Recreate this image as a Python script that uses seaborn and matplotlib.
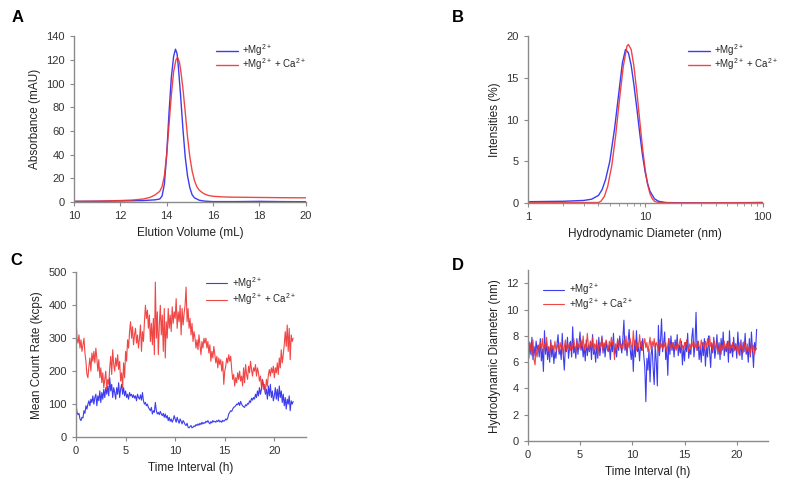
import numpy as np
import pandas as pd
import seaborn as sns
import matplotlib.pyplot as plt
from matplotlib.ticker import LogLocator, NullFormatter

# ---- panel A: size-exclusion chromatography ----
sec_mg_x = [10.0, 11.0, 12.0, 12.5, 13.0, 13.5, 13.7, 13.8, 13.9, 14.0, 14.1, 14.2, 14.3,
            14.38, 14.45, 14.5, 14.6, 14.7, 14.8, 14.9, 15.0, 15.1, 15.2, 15.4, 15.6,
            15.8, 16.0, 17.0, 18.0, 19.0, 20.0]
sec_mg_y = [0.5, 0.6, 0.8, 1.0, 1.2, 1.8, 2.5, 5, 15, 40, 75, 105, 123,
            129, 125, 115, 90, 62, 38, 22, 12, 6, 3.5, 1.5, 0.8,
            0.5, 0.3, 0.3, 0.5, 0.3, 0.2]
sec_ca_x = [10.0, 11.0, 12.0, 12.5, 13.0, 13.3, 13.5, 13.7, 13.8, 13.9, 14.0, 14.1, 14.2,
            14.3, 14.4, 14.47, 14.55, 14.6, 14.7, 14.8, 14.9, 15.0, 15.1, 15.2, 15.3,
            15.4, 15.6, 15.8, 16.0, 16.5, 17.0, 18.0, 19.0, 20.0]
sec_ca_y = [0.5, 0.7, 1.2, 1.6, 2.5, 4, 6, 9, 13, 22, 40, 65, 90,
            110, 120, 122, 118, 112, 96, 76, 55, 38, 26, 18, 13,
            10, 7, 5.5, 4.8, 4.2, 4.0, 3.8, 3.6, 3.5]

# ---- panel B: DLS size distribution ----
dls_mg_x = [1, 2, 3, 3.5, 4, 4.3, 4.6, 5, 5.5, 6, 6.4, 6.8, 7.2, 7.6, 8, 8.5, 9, 9.5,
            10, 10.5, 11, 12, 13, 15, 20, 50, 100]
dls_mg_y = [0.15, 0.2, 0.3, 0.45, 0.9, 1.6, 2.8, 5, 9, 13.5, 16.8, 18.4, 18.0, 16.5,
            14.3, 11.3, 8.3, 5.7, 3.7, 2.3, 1.4, 0.5, 0.2, 0.05, 0.02, 0.0, 0.05]
dls_ca_x = [1, 2, 3, 4, 4.2, 4.5, 4.8, 5.2, 5.6, 6, 6.5, 7, 7.2, 7.6, 8, 8.5, 9, 9.5,
            10, 10.5, 11, 11.5, 12, 13, 20, 100]
dls_ca_y = [0.05, 0.05, 0.05, 0.05, 0.2, 0.8, 2, 4.5, 8, 12, 16.3, 18.8, 19.0, 18.4,
            16.5, 13.3, 9.8, 6.6, 4.0, 2.2, 1.1, 0.5, 0.2, 0.05, 0.0, 0.05]

# ---- panels C/D: time course, one reading every 0.1 h ----
time_h = [i / 10 for i in range(220)]
count_mg = [
    100, 75, 68, 72, 55, 50, 60, 58, 80, 72,
    95, 85, 100, 110, 95, 115, 105, 125, 100, 120,
    130, 95, 125, 110, 140, 105, 135, 115, 145, 120,
    150, 130, 155, 125, 180, 140, 160, 120, 150, 135,
    115, 150, 130, 165, 120, 145, 160, 130, 150, 125,
    140, 120, 130, 115, 135, 125, 130, 120, 128, 118,
    125, 110, 130, 120, 115, 128, 112, 135, 110, 100,
    105, 95, 100, 90, 85, 80, 90, 70, 80, 75,
    105, 80, 70, 75, 68, 78, 70, 65, 72, 60,
    70, 58, 65, 50, 60, 48, 55, 45, 52, 65,
    55, 45, 60, 50, 42, 55, 48, 40, 50, 45,
    38, 35, 42, 30, 28, 32, 35, 28, 30, 34,
    32, 38, 35, 40, 36, 42, 38, 45, 40, 44,
    42, 48, 45, 50, 44, 40, 47, 43, 50, 46,
    48, 45, 50, 47, 52, 46, 49, 45, 51, 48,
    50, 55, 52, 58, 70, 75, 80, 78, 85, 90,
    92, 95, 100, 98, 105, 96, 108, 100, 95, 92,
    90, 98, 95, 102, 100, 110, 105, 118, 112, 120,
    115, 130, 120, 140, 125, 150, 130, 145, 175, 160,
    150, 130, 145, 115, 155, 125, 160, 120, 140, 110,
    125, 150, 115, 145, 110, 155, 120, 140, 105, 130,
    95, 120, 85, 115, 100, 125, 80, 110, 100, 108,
]
count_ca = [
    360, 300, 285, 310, 270, 295, 260, 280, 300, 255,
    230, 190, 180, 215, 240, 200, 255, 230, 260, 225,
    270, 240, 200, 235, 180, 210, 165, 195, 150, 175,
    200, 145, 175, 160, 210, 245, 190, 265, 220, 200,
    240, 215, 250, 205, 230, 170, 195, 150, 225, 180,
    260, 230, 295, 270, 320, 350, 300, 335, 280, 310,
    330, 285, 310, 270, 300, 340, 260, 320, 290, 350,
    400, 360, 385, 330, 370, 290, 345, 280, 360, 250,
    470, 300, 380, 250, 340, 400, 310, 370, 260, 390,
    240, 350, 300, 390, 330, 370, 320, 395, 345, 380,
    360, 420, 330, 380, 350, 400, 310, 390, 340, 375,
    400, 455, 350, 390, 330, 360, 310, 345, 290, 320,
    300, 270, 295, 265, 310, 280, 250, 290, 270, 300,
    285, 300, 270, 290, 255, 280, 230, 260, 240, 275,
    250, 225, 245, 210, 240, 220, 235, 200, 230, 160,
    200, 215, 240, 225, 250, 230, 245, 205, 175, 190,
    155, 180, 165, 195, 175, 200, 170, 185, 155, 210,
    165, 220, 190, 175, 215, 195, 230, 205, 185, 210,
    200, 220, 185, 210, 195, 170, 185, 150, 175, 145,
    160, 135, 175, 155, 190, 205, 185, 210, 195, 215,
    180, 210, 195, 225, 190, 240, 210, 265, 225, 250,
    280, 320, 275, 340, 260, 330, 235, 310, 290, 300,
]
diam_mg = [
    7.0, 6.3, 7.5, 6.6, 7.9, 6.2, 7.2, 6.5, 7.6, 6.9,
    7.3, 6.4, 7.8, 6.1, 7.0, 5.3, 8.4, 6.6, 7.5, 6.2,
    7.1, 6.0, 7.7, 6.4, 7.2, 5.9, 6.8, 6.3, 7.4, 8.1,
    6.6, 7.0, 6.2, 8.2, 6.5, 5.4, 7.3, 6.8, 7.9, 6.3,
    7.1, 7.6, 6.4, 8.7, 6.7, 7.2, 6.3, 7.8, 6.6, 7.4,
    8.3, 6.9, 7.5, 6.4, 7.2, 6.1, 7.7, 6.5, 7.3, 6.8,
    7.6, 6.2, 8.1, 6.6, 7.0, 6.0, 7.4, 6.3, 7.9, 6.5,
    7.2, 8.0, 6.7, 7.4, 6.4, 7.6, 7.0, 6.8, 7.3, 6.2,
    7.5, 6.8, 8.2, 6.6, 7.1, 6.4, 7.7, 6.9, 8.0, 7.2,
    6.7, 7.8, 9.2, 6.9, 7.4, 6.5, 7.6, 8.5, 7.0, 6.2,
    7.3, 5.3, 7.6, 6.4, 8.4, 6.8, 7.2, 6.1, 7.5, 6.9,
    7.8, 6.5, 5.6, 3.0, 6.3, 5.4, 7.0, 4.5, 6.6, 7.2,
    5.5, 4.3, 7.4, 6.0, 4.2, 8.8, 6.5, 7.6, 9.3, 6.8,
    7.4, 8.3, 6.2, 7.1, 5.0, 7.8, 6.6, 8.0, 6.9, 7.5,
    6.4, 7.7, 7.0, 8.1, 6.5, 7.3, 6.7, 7.6, 5.8, 7.2,
    6.1, 7.5, 6.8, 8.2, 6.3, 7.0, 6.6, 7.9, 8.6, 6.4,
    7.3, 9.8, 6.9, 7.6, 6.2, 7.1, 6.0, 7.5, 6.5, 7.8,
    5.7, 7.2, 6.4, 8.0, 6.8, 5.6, 7.4, 6.7, 7.9, 6.3,
    7.0, 8.1, 6.6, 7.5, 6.2, 7.8, 6.9, 8.3, 6.5, 7.2,
    6.8, 7.6, 6.0, 8.4, 6.7, 7.3, 6.4, 7.9, 6.9, 7.4,
    6.3, 8.3, 7.0, 6.5, 7.7, 6.2, 7.5, 6.8, 8.2, 6.6,
    7.1, 6.0, 7.8, 6.4, 8.3, 7.0, 5.6, 7.5, 6.9, 8.5,
]
diam_ca = [
    7.2, 7.6, 6.8, 7.4, 6.5, 7.7, 6.2, 5.8, 7.0, 6.4,
    7.3, 6.9, 7.5, 7.0, 7.8, 6.7, 7.4, 7.1, 7.9, 6.8,
    7.2, 6.6, 7.5, 7.0, 7.3, 6.8, 7.6, 6.9, 7.1, 7.4,
    6.8, 7.5, 7.0, 7.3, 6.6, 7.2, 7.7, 6.9, 7.4, 7.1,
    7.5, 6.9, 7.3, 7.0, 7.8, 7.2, 6.8, 7.6, 7.1, 7.4,
    7.0, 7.7, 7.2, 8.0, 6.9, 7.4, 7.1, 8.2, 7.3, 6.9,
    7.6, 7.1, 7.9, 6.8, 7.4, 7.0, 7.7, 6.6, 7.3, 7.5,
    7.2, 7.8, 6.9, 7.5, 7.1, 7.7, 7.3, 6.9, 7.6, 7.2,
    7.9, 7.3, 7.6, 6.2, 7.4, 7.0, 7.8, 7.2, 7.5, 7.1,
    7.4, 7.0, 7.7, 7.2, 8.0, 6.9, 7.5, 7.1, 7.8, 7.3,
    7.0, 8.4, 7.3, 7.7, 6.9, 7.5, 7.1, 8.1, 7.2, 7.6,
    6.9, 7.4, 7.8, 7.1, 7.5, 6.8, 7.3, 7.9, 7.0, 7.6,
    7.2, 7.8, 7.0, 7.5, 7.3, 6.9, 7.7, 7.1, 7.4, 7.0,
    7.6, 7.2, 7.5, 6.8, 7.3, 7.8, 7.0, 7.4, 7.1, 7.5,
    7.0, 7.3, 6.9, 7.6, 7.1, 7.4, 7.8, 7.0, 7.3, 6.9,
    7.5, 7.1, 7.7, 7.2, 6.8, 7.4, 7.0, 7.6, 7.2, 7.5,
    7.1, 7.4, 6.9, 7.6, 7.2, 7.0, 7.7, 7.3, 7.5, 7.0,
    7.6, 7.1, 7.8, 7.3, 8.0, 7.2, 7.5, 6.9, 7.7, 7.4,
    7.0, 7.5, 7.1, 6.8, 7.4, 6.6, 7.3, 7.0, 7.6, 6.9,
    7.4, 7.0, 7.6, 6.7, 7.3, 7.1, 7.5, 6.8, 7.2, 7.4,
    6.9, 7.3, 6.6, 7.5, 7.0, 7.2, 6.7, 7.6, 7.1, 6.8,
    7.4, 6.9, 7.2, 6.5, 7.5, 6.9, 7.3, 6.6, 7.1, 7.0,
]

LABEL_MG = r'+Mg$^{2+}$'
LABEL_CA = r'+Mg$^{2+}$ + Ca$^{2+}$'
BLUE = '#3c3cf0'
RED = '#f03232'

sns.set_style('ticks')
plt.rcParams['font.family'] = ['Liberation Sans', 'DejaVu Sans']
plt.rcParams['mathtext.fontset'] = 'custom'
plt.rcParams['mathtext.rm'] = 'Liberation Sans'
plt.rcParams['mathtext.it'] = 'Liberation Sans'
plt.rcParams['axes.edgecolor'] = '#8a8a8a'
plt.rcParams['xtick.color'] = '#8a8a8a'
plt.rcParams['ytick.color'] = '#8a8a8a'
plt.rcParams['xtick.labelcolor'] = '#333333'
plt.rcParams['ytick.labelcolor'] = '#333333'
plt.rcParams['axes.linewidth'] = 1.0

fig = plt.figure(figsize=(7.96, 4.95), dpi=100)
ax_a = fig.add_axes([0.093, 0.592, 0.291, 0.335])
ax_b = fig.add_axes([0.663, 0.590, 0.295, 0.337])
ax_c = fig.add_axes([0.0955, 0.117, 0.289, 0.333])
ax_d = fig.add_axes([0.663, 0.109, 0.302, 0.345])


def draw_pair(ax, x1, y1, x2, y2, lw=1.0):
    d1 = pd.DataFrame({'x': x1, 'y': y1})
    d2 = pd.DataFrame({'x': x2, 'y': y2})
    sns.lineplot(data=d1, x='x', y='y', ax=ax, color=BLUE, lw=lw,
                 label=LABEL_MG, estimator=None, sort=False)
    sns.lineplot(data=d2, x='x', y='y', ax=ax, color=RED, lw=lw,
                 label=LABEL_CA, estimator=None, sort=False, alpha=0.9)


draw_pair(ax_a, sec_mg_x, sec_mg_y, sec_ca_x, sec_ca_y)
draw_pair(ax_b, dls_mg_x, dls_mg_y, dls_ca_x, dls_ca_y)
draw_pair(ax_c, time_h, count_mg, time_h, count_ca, lw=0.8)
draw_pair(ax_d, time_h, diam_mg, time_h, diam_ca, lw=0.8)

ax_a.set_xlim(10, 20)
ax_a.set_ylim(0, 140)
ax_a.set_xticks([10, 12, 14, 16, 18, 20])
ax_a.set_yticks(range(0, 141, 20))
ax_a.set_xlabel('Elution Volume (mL)')
ax_a.set_ylabel('Absorbance (mAU)')

ax_b.set_xscale('log')
ax_b.set_xlim(1, 100)
ax_b.set_ylim(0, 20)
ax_b.set_xticks([1, 10, 100])
ax_b.set_xticklabels(['1', '10', '100'])
ax_b.xaxis.set_minor_locator(LogLocator(base=10, subs=np.arange(2, 10)))
ax_b.xaxis.set_minor_formatter(NullFormatter())
ax_b.set_yticks([0, 5, 10, 15, 20])
ax_b.set_xlabel('Hydrodynamic Diameter (nm)')
ax_b.set_ylabel('Intensities (%)')

ax_c.set_xlim(0, 23.2)
ax_c.set_ylim(0, 500)
ax_c.set_xticks([0, 5, 10, 15, 20])
ax_c.set_yticks(range(0, 501, 100))
ax_c.set_xlabel('Time Interval (h)')
ax_c.set_ylabel('Mean Count Rate (kcps)')

ax_d.set_xlim(0, 23)
ax_d.set_ylim(0, 13)
ax_d.set_xticks([0, 5, 10, 15, 20])
ax_d.set_yticks(range(0, 13, 2))
ax_d.set_xlabel('Time Interval (h)')
ax_d.set_ylabel('Hydrodynamic Diameter (nm)')

legend_opts = {
    ax_a: ((0.58, 1.01), -0.15),
    ax_b: ((0.65, 1.01), -0.15),
    ax_c: ((0.53, 1.03), 0.05),
    ax_d: ((0.03, 0.98), -0.15),
}
for ax in (ax_a, ax_b, ax_c, ax_d):
    sns.despine(ax=ax)
    ax.tick_params(labelsize=8, length=3, width=0.8, direction='out')
    ax.tick_params(which='minor', length=2, width=0.6)
    ax.xaxis.label.set_size(8.5)
    ax.yaxis.label.set_size(8.5)
    ax.xaxis.label.set_color('#222222')
    ax.yaxis.label.set_color('#222222')
    anchor, spacing = legend_opts[ax]
    ax.legend(loc='upper left', bbox_to_anchor=anchor, frameon=False,
              fontsize=7, handlelength=2.2, handletextpad=0.5,
              labelspacing=spacing, borderpad=0.3)

for letter, (fx, fy) in zip('ABCD', [(0.015, 0.955), (0.568, 0.955),
                                    (0.013, 0.465), (0.568, 0.455)]):
    fig.text(fx, fy, letter, fontsize=12, fontweight='bold', color='black')

fig.savefig('out.png', dpi=100)
